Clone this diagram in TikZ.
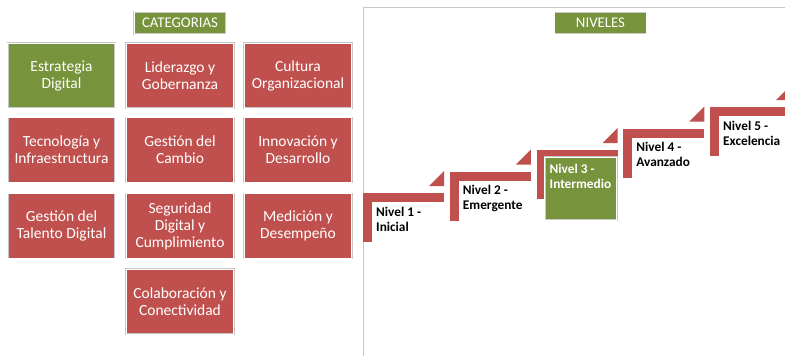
\documentclass[tikz,border=0pt]{standalone}
\usepackage{fontspec}
\setmainfont{Carlito}
\definecolor{cred}{HTML}{C0504D}
\definecolor{cgreen}{HTML}{77933C}
\definecolor{frameg}{HTML}{C8C8C8}
\begin{document}
\begin{tikzpicture}[x=1pt,y=-1pt,
  box/.style={rectangle, draw=black!22, double=white, double distance=0.8pt, line width=0.5pt, inner sep=1pt, align=center, text=white},
  cat/.style={box, fill=cred, minimum width=107.5pt, minimum height=65pt, font=\fontsize{15.5}{17}\selectfont},
  head/.style={box, fill=cgreen, minimum width=92pt, minimum height=22.5pt, font=\fontsize{14.8}{17}\selectfont},
  lvl/.style={anchor=north west, align=left, inner sep=0pt, text=black, font=\fontsize{13.3}{15}\selectfont\bfseries}
]
\useasboundingbox (0,0) rectangle (785,356);
% frame of right panel
\draw[frameg, line width=1pt] (363,356) -- (363,7) -- (785,7);
% headers
\node[head] (hcat) at (180,23) {CATEGORIAS};
\node[head] (hniv) at (600.5,23) {NIVELES};
% categories
\node[cat, fill=cgreen] (c1) at (61.5,75.5) {Estrategia\\Digital};
\node[cat] (c2) at (180,75.5) {Liderazgo y\\Gobernanza};
\node[cat] (c3) at (298,75.5) {Cultura\\Organizacional};
\node[cat] (c4) at (61.5,150) {Tecnología y\\Infraestructura};
\node[cat] (c5) at (180,150) {Gestión del\\Cambio};
\node[cat] (c6) at (298,150) {Innovación y\\Desarrollo};
\node[cat] (c7) at (61.5,226) {Gestión del\\Talento Digital};
\node[cat] (c8) at (180,226) {Seguridad\\Digital y\\Cumplimiento};
\node[cat] (c9) at (298,226) {Medición y\\Desempeño};
\node[cat] (c10) at (180,301.5) {Colaboración y\\Conectividad};
% steps
\begin{scope}
\clip (0,0) rectangle (785,356);
\foreach \i in {0,...,4} {
  \pgfmathsetmacro\xo{363+86.75*\i}
  \pgfmathsetmacro\yo{193-21.5*\i}
  \fill[cred] (\xo,\yo) rectangle ++(81,9);
  \fill[cred] (\xo,\yo) rectangle ++(9,49);
  \fill[cred] (\xo+66,\yo-7) -- ++(15,0) -- ++(0,-15) -- cycle;
}
\end{scope}
\node[box, fill=cgreen, anchor=north west, minimum width=72pt, minimum height=63pt] (n3box) at (544.5,157) {};
\node[lvl] (n1) at (376,206.5) {Nivel 1 -\\Inicial};
\node[lvl] (n2) at (462.75,185) {Nivel 2 -\\Emergente};
\node[lvl, text=white] (n3) at (549.5,163.5) {Nivel 3 -\\Intermedio};
\node[lvl] (n4) at (636.25,142) {Nivel 4 -\\Avanzado};
\node[lvl] (n5) at (723,120.5) {Nivel 5 -\\Excelencia};
\end{tikzpicture}
\end{document}
